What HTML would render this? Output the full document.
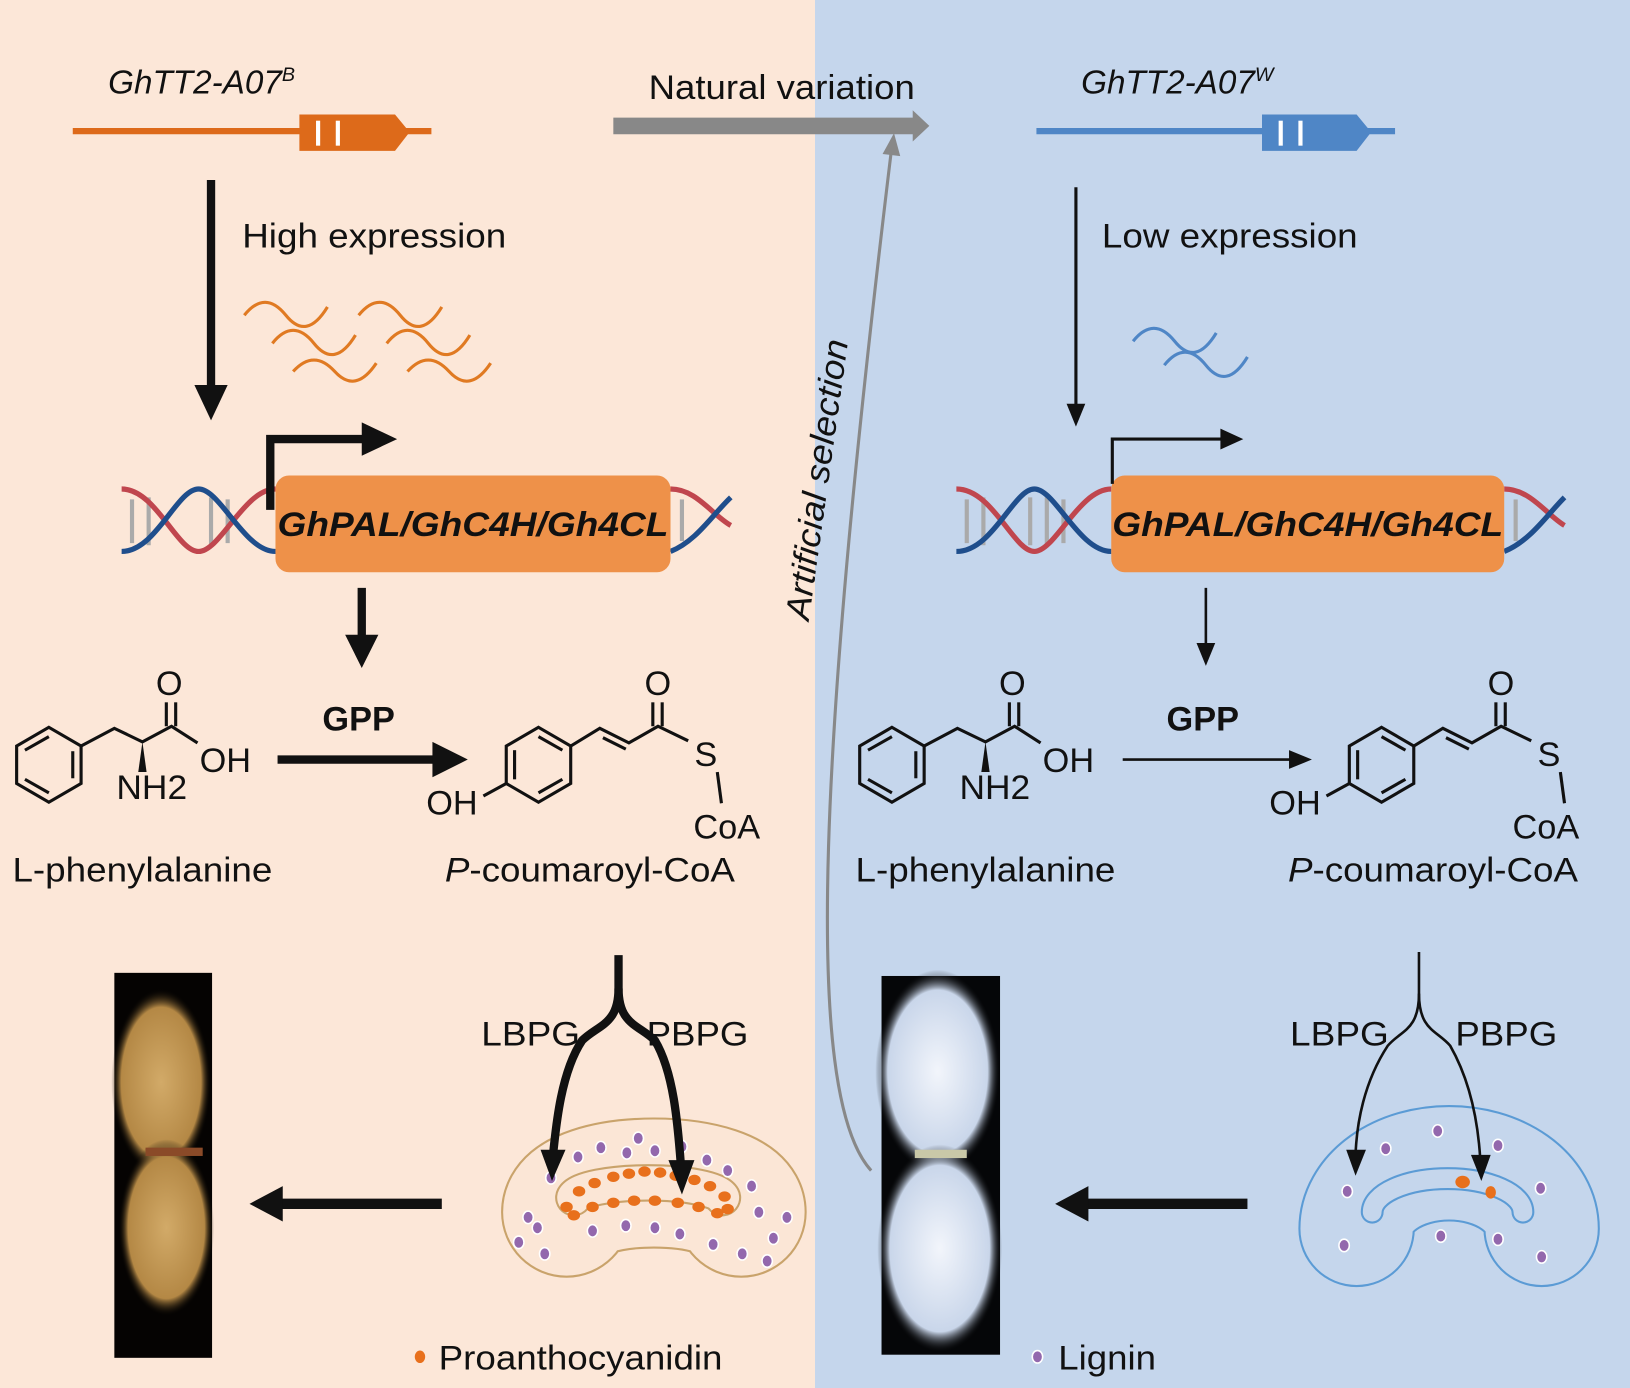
<!DOCTYPE html>
<html><head><meta charset="utf-8"><style>
html,body{margin:0;padding:0;background:#fff}
svg{display:block}
text{font-family:"Liberation Sans",Arial,sans-serif;fill:#111}
</style></head><body>
<svg width="1630" height="1388" viewBox="0 0 1568 1334" preserveAspectRatio="none" xmlns="http://www.w3.org/2000/svg">
<defs>
<radialGradient id="tan" cx="50%" cy="50%" r="50%"><stop offset="0" stop-color="#d2aa68"/><stop offset="0.8" stop-color="#b48845"/><stop offset="1" stop-color="#000" stop-opacity="0"/></radialGradient>
<radialGradient id="wht" cx="50%" cy="50%" r="50%"><stop offset="0" stop-color="#f2f5fb"/><stop offset="0.8" stop-color="#c9d6ea"/><stop offset="1" stop-color="#000" stop-opacity="0"/></radialGradient>
<g id="dot"><ellipse rx="5" ry="6" fill="#9368ad" stroke="#fff" stroke-width="1.5"/></g>
<g id="chem" fill="none" stroke="#111" stroke-width="3">
  <polygon points="47,699 78,717 78,753 47,771 16,753 16,717"/>
  <line x1="24" y1="721" x2="47" y2="708"/><line x1="70" y1="722" x2="70" y2="748"/><line x1="24" y1="749" x2="47" y2="762"/>
  <polyline points="78,717 110,700 137,713 165,698 190,714"/>
  <line x1="160" y1="698" x2="160" y2="675"/><line x1="169" y1="698" x2="169" y2="675"/>
  <path d="M137,713 L133,742 L141,742 Z" fill="#111" stroke="none"/>
  <polygon points="518,699 549,717 549,753 518,771 487,753 487,717"/>
  <line x1="495" y1="721" x2="495" y2="749"/><line x1="541" y1="721" x2="518" y2="708"/><line x1="541" y1="749" x2="518" y2="762"/>
  <line x1="487" y1="753" x2="465" y2="765"/>
  <polyline points="549,717 577,700 605,714 633,698 662,712"/>
  <line x1="580" y1="709" x2="602" y2="720"/>
  <line x1="628" y1="698" x2="628" y2="675"/><line x1="637" y1="698" x2="637" y2="675"/>
  <line x1="690" y1="742" x2="694" y2="772"/>
</g>
<g id="chemt" font-size="33">
  <text x="150" y="668">O</text><text x="192" y="742">OH</text><text x="112" y="768" textLength="68" lengthAdjust="spacingAndGlyphs">NH2</text>
  <text x="620" y="668">O</text><text x="668" y="736">S</text><text x="410" y="783">OH</text>
  <text x="12" y="847" textLength="250" lengthAdjust="spacingAndGlyphs">L-phenylalanine</text>
  <text x="428" y="847" textLength="279" lengthAdjust="spacingAndGlyphs"><tspan font-style="italic">P</tspan>-coumaroyl-CoA</text>
</g>
</defs>
<rect x="0" y="0" width="784" height="1334" fill="#fce7d8"/>
<rect x="784" y="0" width="784" height="1334" fill="#c5d6ec"/>

<text x="104" y="90" font-size="32" font-style="italic">GhTT2-A07<tspan font-size="19" dy="-12">B</tspan></text>
<line x1="70" y1="126" x2="415" y2="126" stroke="#dd6a1a" stroke-width="6"/>
<path d="M288,110 L380,110 L394,127 L380,145 L288,145 Z" fill="#dd6a1a"/>
<rect x="304" y="116" width="4" height="24" fill="#fff"/><rect x="323" y="116" width="4" height="24" fill="#fff"/>

<text x="624" y="95" font-size="33" textLength="256" lengthAdjust="spacingAndGlyphs">Natural variation</text>
<line x1="590" y1="121" x2="880" y2="121" stroke="#888" stroke-width="16"/>
<path d="M878,106 L894,121 L878,136 Z" fill="#888"/>

<text x="1040" y="90" font-size="32" font-style="italic">GhTT2-A07<tspan font-size="19" dy="-12">W</tspan></text>
<line x1="997" y1="126" x2="1342" y2="126" stroke="#4f86c6" stroke-width="6"/>
<path d="M1214,110 L1305,110 L1319,127 L1305,145 L1214,145 Z" fill="#4f86c6"/>
<rect x="1230" y="116" width="4" height="24" fill="#fff"/><rect x="1249" y="116" width="4" height="24" fill="#fff"/>

<line x1="203" y1="173" x2="203" y2="372" stroke="#111" stroke-width="8"/>
<path d="M187,370 L203,404 L219,370 Z" fill="#111"/>
<text x="233" y="238" font-size="33" textLength="254" lengthAdjust="spacingAndGlyphs">High expression</text>
<line x1="1035" y1="180" x2="1035" y2="392" stroke="#111" stroke-width="3"/>
<path d="M1026,388 L1035,410 L1044,388 Z" fill="#111"/>
<text x="1060" y="238" font-size="33" textLength="246" lengthAdjust="spacingAndGlyphs">Low expression</text>

<g fill="none" stroke="#e07a22" stroke-width="3">
<path d="M235,303 q20,-25 40,0 t40,-8"/><path d="M345,303 q20,-25 40,0 t40,-8"/>
<path d="M262,330 q20,-25 40,0 t40,-8"/><path d="M372,330 q20,-25 40,0 t40,-8"/>
<path d="M282,357 q20,-22 40,0 t40,-8"/><path d="M392,357 q20,-22 40,0 t40,-8"/>
</g>
<g fill="none" stroke="#4f86c6" stroke-width="3">
<path d="M1090,328 q20,-25 40,0 t40,-8"/><path d="M1120,351 q20,-25 40,0 t40,-8"/>
</g>

<g stroke-width="5" fill="none">
<g stroke="#aaa" stroke-width="4"><line x1="127" y1="480" x2="127" y2="522"/><line x1="143" y1="478" x2="143" y2="524"/><line x1="203" y1="478" x2="203" y2="524"/><line x1="219" y1="480" x2="219" y2="522"/><line x1="656" y1="480" x2="656" y2="520"/></g>
<path d="M117,470 C150,470 170,530 191,530 C212,530 235,470 265,470" stroke="#c0464e"/>
<path d="M117,530 C150,530 170,470 191,470 C212,470 235,530 265,530" stroke="#1f4e8c"/>
<path d="M645,470 C670,470 685,495 703,505" stroke="#c0464e"/>
<path d="M645,530 C670,520 685,495 703,478" stroke="#1f4e8c"/>
</g>
<rect x="265" y="457" width="380" height="93" rx="13" fill="#ee9149"/>
<text x="455" y="515" font-size="33" font-weight="bold" font-style="italic" text-anchor="middle" textLength="376" lengthAdjust="spacingAndGlyphs">GhPAL/GhC4H/Gh4CL</text>
<polyline points="260,490 260,422 352,422" fill="none" stroke="#111" stroke-width="8"/>
<path d="M348,406 L382,422 L348,438 Z" fill="#111"/>

<g stroke-width="5" fill="none">
<g stroke="#aaa" stroke-width="4"><line x1="930" y1="480" x2="930" y2="522"/><line x1="946" y1="478" x2="946" y2="524"/><line x1="991" y1="478" x2="991" y2="524"/><line x1="1007" y1="478" x2="1007" y2="524"/><line x1="1023" y1="480" x2="1023" y2="522"/><line x1="1458" y1="480" x2="1458" y2="520"/></g>
<path d="M920,470 C955,470 975,530 995,530 C1015,530 1038,470 1069,470" stroke="#c0464e"/>
<path d="M920,530 C955,530 975,470 995,470 C1015,470 1038,530 1069,530" stroke="#1f4e8c"/>
<path d="M1447,470 C1472,470 1488,495 1505,505" stroke="#c0464e"/>
<path d="M1447,530 C1472,520 1488,495 1505,478" stroke="#1f4e8c"/>
</g>
<rect x="1069" y="457" width="378" height="93" rx="13" fill="#ee9149"/>
<text x="1258" y="515" font-size="33" font-weight="bold" font-style="italic" text-anchor="middle" textLength="376" lengthAdjust="spacingAndGlyphs">GhPAL/GhC4H/Gh4CL</text>
<polyline points="1070,465 1070,422 1178,422" fill="none" stroke="#111" stroke-width="3"/>
<path d="M1174,412 L1196,422 L1174,432 Z" fill="#111"/>

<line x1="348" y1="565" x2="348" y2="612" stroke="#111" stroke-width="8"/>
<path d="M332,610 L348,642 L364,610 Z" fill="#111"/>
<line x1="1160" y1="565" x2="1160" y2="622" stroke="#111" stroke-width="2.5"/>
<path d="M1151,618 L1160,640 L1169,618 Z" fill="#111"/>

<use href="#chem"/><use href="#chemt"/>
<text x="667" y="806" font-size="33">CoA</text>
<use href="#chem" transform="translate(811,0)"/><use href="#chemt" transform="translate(811,0)"/>
<text x="1455" y="806" font-size="33">CoA</text>
<text x="345" y="702" font-size="33" font-weight="bold" text-anchor="middle">GPP</text>
<line x1="267" y1="730" x2="420" y2="730" stroke="#111" stroke-width="8"/>
<path d="M416,713 L450,730 L416,747 Z" fill="#111"/>
<text x="1157" y="702" font-size="33" font-weight="bold" text-anchor="middle">GPP</text>
<line x1="1080" y1="730" x2="1244" y2="730" stroke="#111" stroke-width="2.5"/>
<path d="M1240,721 L1262,730 L1240,739 Z" fill="#111"/>

<path d="M838,1125 C770,1050 790,700 858,140" fill="none" stroke="#888" stroke-width="3"/>
<path d="M849,148 L860,128 L866,150 Z" fill="#888"/>
<text transform="translate(778,597) rotate(-82)" font-size="33" font-style="italic" textLength="272" lengthAdjust="spacingAndGlyphs">Artificial selection</text>

<!-- left bottom -->
<text x="463" y="1005" font-size="33" textLength="95" lengthAdjust="spacingAndGlyphs">LBPG</text><text x="622" y="1005" font-size="33" textLength="98" lengthAdjust="spacingAndGlyphs">PBPG</text>
<path d="M545,1165 A84,28 0 0 1 713,1165" fill="none" stroke="#c9a36b" stroke-width="126" stroke-linecap="round"/>
<path d="M545,1165 A84,28 0 0 1 713,1165" fill="none" stroke="#fbe6d6" stroke-width="122" stroke-linecap="round"/>
<path d="M552,1151 A72,16 0 0 1 695,1151" fill="none" stroke="#c9a36b" stroke-width="36" stroke-linecap="round"/>
<path d="M552,1151 A72,16 0 0 1 695,1151" fill="none" stroke="#fbe6d6" stroke-width="32" stroke-linecap="round"/>
<g fill="#e8701c">
<ellipse cx="545" cy="1160" rx="6" ry="5"/><ellipse cx="557" cy="1145" rx="6" ry="5"/><ellipse cx="572" cy="1137" rx="6" ry="5"/><ellipse cx="590" cy="1131" rx="6" ry="5"/><ellipse cx="605" cy="1128" rx="6" ry="5"/><ellipse cx="620" cy="1126" rx="6" ry="5"/><ellipse cx="635" cy="1127" rx="6" ry="5"/><ellipse cx="650" cy="1130" rx="6" ry="5"/><ellipse cx="668" cy="1134" rx="6" ry="5"/><ellipse cx="683" cy="1140" rx="6" ry="5"/><ellipse cx="697" cy="1150" rx="6" ry="5"/>
<ellipse cx="552" cy="1168" rx="6" ry="5"/><ellipse cx="570" cy="1160" rx="6" ry="5"/><ellipse cx="590" cy="1156" rx="6" ry="5"/><ellipse cx="610" cy="1154" rx="6" ry="5"/><ellipse cx="630" cy="1154" rx="6" ry="5"/><ellipse cx="652" cy="1156" rx="6" ry="5"/><ellipse cx="672" cy="1160" rx="6" ry="5"/><ellipse cx="690" cy="1166" rx="6" ry="5"/><ellipse cx="700" cy="1162" rx="6" ry="5"/>
</g>
<g>
<use href="#dot" x="530" y="1132"/><use href="#dot" x="556" y="1112"/><use href="#dot" x="578" y="1103"/><use href="#dot" x="603" y="1108"/><use href="#dot" x="614" y="1094"/><use href="#dot" x="630" y="1106"/><use href="#dot" x="656" y="1102"/><use href="#dot" x="680" y="1115"/><use href="#dot" x="700" y="1125"/><use href="#dot" x="723" y="1140"/>
<use href="#dot" x="508" y="1170"/><use href="#dot" x="499" y="1194"/><use href="#dot" x="517" y="1180"/><use href="#dot" x="524" y="1205"/><use href="#dot" x="570" y="1183"/><use href="#dot" x="602" y="1178"/><use href="#dot" x="630" y="1180"/><use href="#dot" x="654" y="1186"/><use href="#dot" x="686" y="1196"/><use href="#dot" x="714" y="1205"/><use href="#dot" x="730" y="1165"/><use href="#dot" x="744" y="1190"/><use href="#dot" x="757" y="1170"/><use href="#dot" x="738" y="1212"/>
</g>
<g fill="none" stroke="#111" stroke-width="8">
<path d="M595,918 L595,950 C595,985 575,985 560,1000 C540,1030 535,1080 532,1110"/>
<path d="M595,950 C595,985 615,985 630,1000 C648,1030 652,1080 655,1120"/>
</g>
<path d="M520,1105 L531,1135 L544,1105 Z" fill="#111"/>
<path d="M643,1115 L656,1148 L668,1115 Z" fill="#111"/>

<rect x="110" y="935" width="94" height="370" fill="#050302"/>
<ellipse cx="155" cy="1040" rx="48" ry="90" fill="url(#tan)"/>
<ellipse cx="160" cy="1180" rx="46" ry="85" fill="url(#tan)"/>
<rect x="140" y="1103" width="55" height="8" fill="#8a4a28"/>
<line x1="425" y1="1157" x2="265" y2="1157" stroke="#111" stroke-width="10"/>
<path d="M272,1140 L240,1157 L272,1174 Z" fill="#111"/>
<ellipse cx="404" cy="1304" rx="5" ry="6" fill="#e8701c"/>
<text x="422" y="1316" font-size="33" textLength="273" lengthAdjust="spacingAndGlyphs">Proanthocyanidin</text>

<!-- right bottom -->
<text x="1241" y="1005" font-size="33" textLength="95" lengthAdjust="spacingAndGlyphs">LBPG</text><text x="1400" y="1005" font-size="33" textLength="98" lengthAdjust="spacingAndGlyphs">PBPG</text>
<path d="M1305,1181 A89,63 0 0 1 1483,1181" fill="none" stroke="#5b9bd5" stroke-width="112" stroke-linecap="round"/>
<path d="M1305,1181 A89,63 0 0 1 1483,1181" fill="none" stroke="#c5d6ec" stroke-width="108" stroke-linecap="round"/>
<path d="M1320,1165 A72,32 0 0 1 1465,1165" fill="none" stroke="#5b9bd5" stroke-width="22" stroke-linecap="round"/>
<path d="M1320,1165 A72,32 0 0 1 1465,1165" fill="none" stroke="#c5d6ec" stroke-width="18" stroke-linecap="round"/>
<use href="#dot" x="1383" y="1087"/><use href="#dot" x="1333" y="1104"/><use href="#dot" x="1441" y="1101"/><use href="#dot" x="1296" y="1145"/><use href="#dot" x="1482" y="1142"/><use href="#dot" x="1386" y="1188"/><use href="#dot" x="1441" y="1191"/><use href="#dot" x="1293" y="1197"/><use href="#dot" x="1483" y="1208"/>
<ellipse cx="1407" cy="1136" rx="7" ry="6" fill="#e8701c"/><ellipse cx="1434" cy="1146" rx="5" ry="6" fill="#e8701c"/>
<g fill="none" stroke="#111" stroke-width="2.5">
<path d="M1365,915 L1365,955 C1365,990 1348,990 1335,1005 C1312,1040 1305,1080 1304,1110"/>
<path d="M1365,955 C1365,990 1382,990 1395,1005 C1415,1040 1422,1080 1424,1115"/>
</g>
<path d="M1295,1105 L1304,1130 L1314,1105 Z" fill="#111"/>
<path d="M1415,1110 L1425,1135 L1434,1110 Z" fill="#111"/>

<rect x="848" y="938" width="114" height="364" fill="#050608"/>
<ellipse cx="902" cy="1030" rx="60" ry="98" fill="url(#wht)"/>
<ellipse cx="904" cy="1200" rx="60" ry="100" fill="url(#wht)"/>
<rect x="880" y="1105" width="50" height="8" fill="#c9c8a8"/>
<line x1="1200" y1="1157" x2="1040" y2="1157" stroke="#111" stroke-width="10"/>
<path d="M1047,1140 L1015,1157 L1047,1174 Z" fill="#111"/>
<use href="#dot" x="998" y="1304"/>
<text x="1018" y="1316" font-size="33" textLength="94" lengthAdjust="spacingAndGlyphs">Lignin</text>
</svg>
</body></html>
